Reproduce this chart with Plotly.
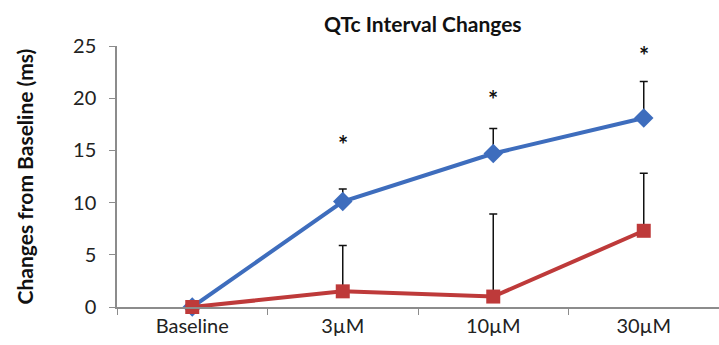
import plotly.graph_objects as go

categories = ["Baseline", "3\u00b5M", "10\u00b5M", "30\u00b5M"]
blue_values = [0, 10.1, 14.7, 18.1]
blue_err = [0, 1.2, 2.4, 3.5]
red_values = [0, 1.5, 1.0, 7.3]
red_err = [0, 4.4, 7.9, 5.5]
star_cats = ["3\u00b5M", "10\u00b5M", "30\u00b5M"]
star_y = [15.6, 19.9, 24.1]

fig = go.Figure()
fig.add_trace(go.Scatter(
    x=categories, y=blue_values, mode="lines+markers",
    line=dict(color="#3E6DBD", width=4),
    marker=dict(symbol="diamond", size=15, color="#3E6DBD"),
    error_y=dict(type="data", array=blue_err, arrayminus=[0]*4, symmetric=False,
                 color="#111111", thickness=1.5, width=4),
    cliponaxis=False, showlegend=False))
fig.add_trace(go.Scatter(
    x=categories, y=red_values, mode="lines+markers",
    line=dict(color="#BE3A3A", width=4),
    marker=dict(symbol="square", size=14, color="#BE3A3A"),
    error_y=dict(type="data", array=red_err, arrayminus=[0]*4, symmetric=False,
                 color="#111111", thickness=1.5, width=4),
    cliponaxis=False, showlegend=False))

for c, yv in zip(star_cats, star_y):
    fig.add_annotation(x=c, y=yv, text="<b>*</b>", showarrow=False,
                       font=dict(family="Lato", size=24, color="#111111"))

fig.update_layout(
    width=719, height=345,
    margin=dict(l=117, r=0, t=46, b=38),
    paper_bgcolor="white", plot_bgcolor="white",
    font=dict(family="Lato", color="#222222"),
    title=dict(text="<b>QTc Interval Changes</b>", x=0.588, xanchor="center",
               y=0.928, yanchor="middle", font=dict(size=21, color="#111111")),
)
fig.update_xaxes(
    type="category", range=[-0.5, 3.5], showline=True, linecolor="#8c8c8c", linewidth=1.5,
    ticks="outside", tickson="boundaries", ticklen=6, tickcolor="#8c8c8c",
    tickfont=dict(size=20, color="#222222"), showgrid=False, zeroline=False)
fig.update_yaxes(
    range=[0, 25], dtick=5, showline=True, linecolor="#8c8c8c", linewidth=1.5,
    ticks="outside", ticklen=6, tickcolor="#8c8c8c", showgrid=False, zeroline=False,
    tickfont=dict(size=20, color="#222222"), ticklabelstandoff=9,
    title=dict(text="<b>Changes from Baseline (ms)</b>", font=dict(size=21, color="#111111"),
               standoff=34))

fig.write_html("out.html")
